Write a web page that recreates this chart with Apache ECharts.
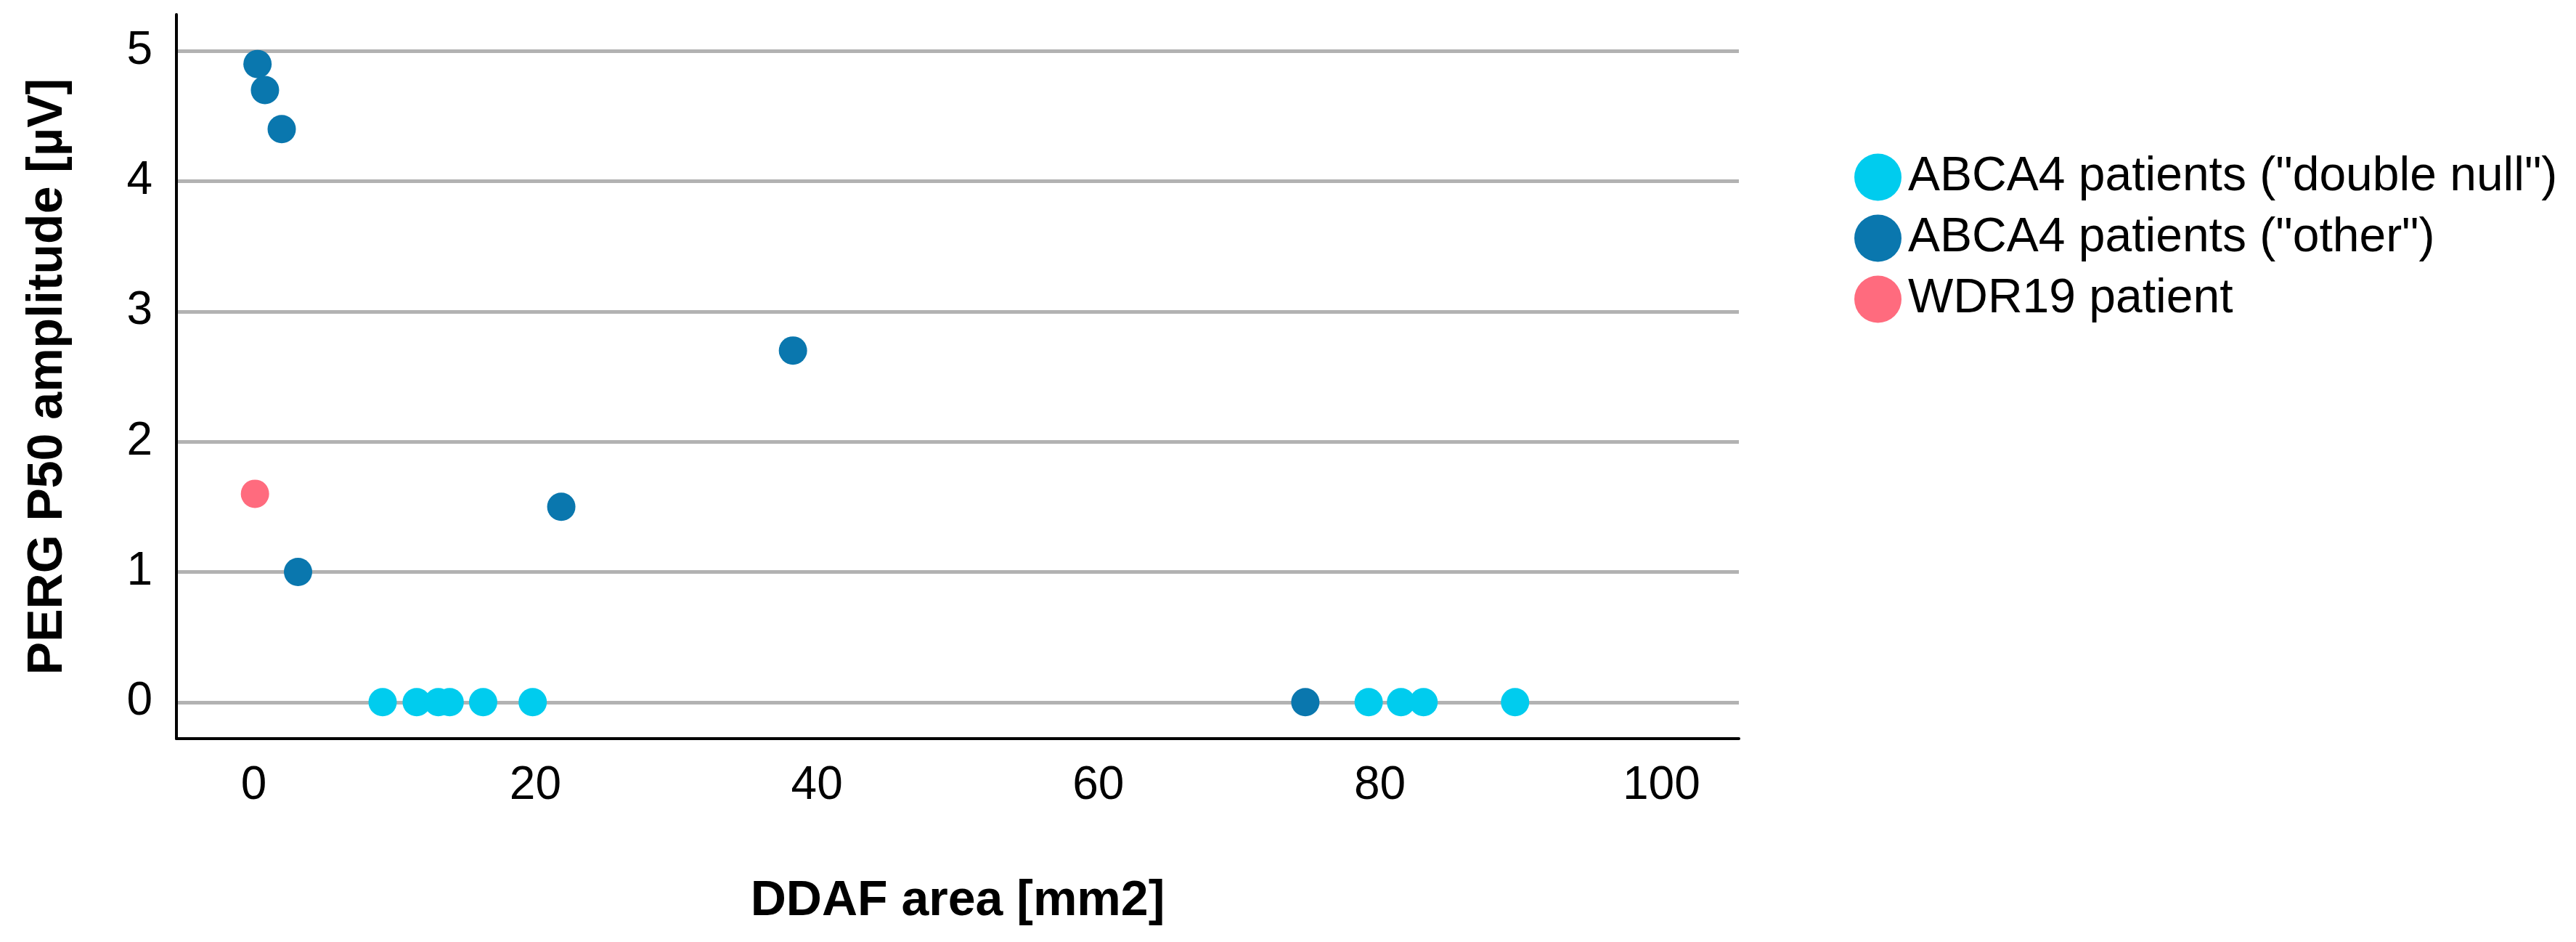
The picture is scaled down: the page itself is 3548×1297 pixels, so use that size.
<!DOCTYPE html>
<html>
<head>
<meta charset="utf-8">
<script src="https://cdn.jsdelivr.net/npm/echarts@6/dist/echarts.min.js"></script>
<style>
html,body{margin:0;padding:0;background:#fff;}
#chart{width:3548px;height:1297px;}
</style>
</head>
<body>
<div id="chart"></div>
<script>
// ---- data ----
const doubleNullX = [9.15, 11.57, 13.11, 13.91, 16.29, 19.81, 79.2, 81.5, 83.1, 89.6];
const doubleNullY = [0, 0, 0, 0, 0, 0, 0, 0, 0, 0];
const otherX = [0.26, 0.79, 1.98, 3.14, 21.84, 38.3, 74.7];
const otherY = [4.9, 4.7, 4.4, 1.0, 1.5, 2.7, 0];
const wdrX = [0.08];
const wdrY = [1.6];
const xTicks = [0, 20, 40, 60, 80, 100];
const yTicks = [0, 1, 2, 3, 4, 5];
const seriesNames = ['ABCA4 patients ("double null")', 'ABCA4 patients ("other")', 'WDR19 patient'];
const colors = ['#00CCEE', '#0A77AE', '#FF6B7E'];

const zip = (xs, ys) => xs.map((x, i) => [x, ys[i]]);
const FONT = "'Liberation Sans', Arial, sans-serif";

const chart = echarts.init(document.getElementById('chart'), null, {renderer: 'canvas'});
chart.setOption({
  backgroundColor: '#ffffff',
  animation: false,
  grid: {left: 243, right: 1153, top: 20, bottom: 280, containLabel: false},
  legend: {
    orient: 'vertical',
    left: 2549,
    top: 206,
    itemWidth: 65,
    itemHeight: 65,
    itemGap: 18,
    icon: 'circle',
    textStyle: {fontFamily: FONT, fontSize: 66, color: '#000', padding: [0, 0, 0, 4]},
    data: seriesNames
  },
  xAxis: {
    type: 'value',
    min: -5.5,
    max: 105.5,
    name: 'DDAF area [mm2]',
    nameLocation: 'middle',
    nameGap: 190,
    nameTextStyle: {fontFamily: FONT, fontSize: 68, fontWeight: 'bold', color: '#000'},
    axisLine: {show: true, onZero: false, lineStyle: {color: '#000', width: 4}},
    axisTick: {show: false, customValues: xTicks},
    axisLabel: {customValues: xTicks, fontFamily: FONT, fontSize: 64, color: '#000', margin: 33},
    splitLine: {show: false}
  },
  yAxis: {
    type: 'value',
    min: -0.28,
    max: 5.28,
    name: 'PERG P50 amplitude [µV]',
    nameLocation: 'middle',
    nameGap: 143,
    nameTextStyle: {fontFamily: FONT, fontSize: 68, fontWeight: 'bold', color: '#000'},
    axisLine: {show: true, onZero: false, lineStyle: {color: '#000', width: 4}},
    axisTick: {show: false, customValues: yTicks},
    axisLabel: {customValues: yTicks, fontFamily: FONT, fontSize: 64, color: '#000', margin: 33},
    splitLine: {show: true, lineStyle: {color: '#B2B2B2', width: 5}}
  },
  series: [
    {name: seriesNames[0], type: 'scatter', symbol: 'circle', symbolSize: 39,
     itemStyle: {color: colors[0], opacity: 1}, data: zip(doubleNullX, doubleNullY)},
    {name: seriesNames[1], type: 'scatter', symbol: 'circle', symbolSize: 39,
     itemStyle: {color: colors[1], opacity: 1}, data: zip(otherX, otherY)},
    {name: seriesNames[2], type: 'scatter', symbol: 'circle', symbolSize: 39,
     itemStyle: {color: colors[2], opacity: 1}, data: zip(wdrX, wdrY)}
  ]
});
</script>
</body>
</html>
